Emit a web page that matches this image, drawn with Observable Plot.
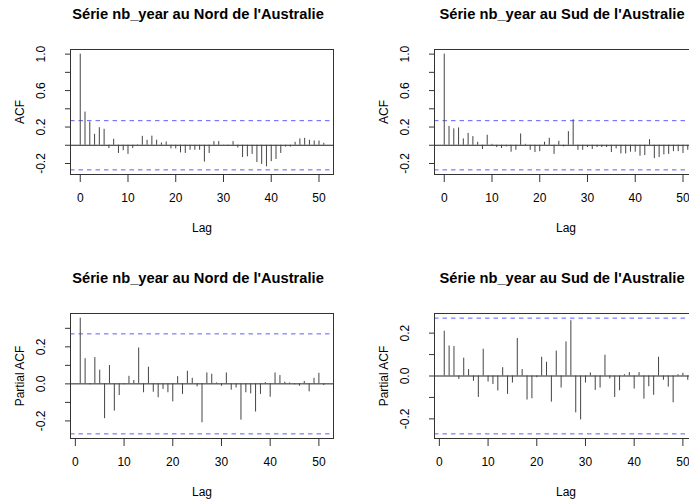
<!DOCTYPE html>
<html><head><meta charset="utf-8">
<script src="https://cdn.jsdelivr.net/npm/d3@7"></script>
<script src="https://cdn.jsdelivr.net/npm/@observablehq/plot@0.6"></script>
<style>
html,body{margin:0;padding:0;background:#fff;}
#wrap{position:relative;width:689px;height:504px;overflow:hidden;background:#fff;}
.panel{position:absolute;}
</style></head><body><div id="wrap"></div>
<script>
const acfLags = [0,1,2,3,4,5,6,7,8,9,10,11,12,13,14,15,16,17,18,19,20,21,22,23,24,25,26,27,28,29,30,31,32,33,34,35,36,37,38,39,40,41,42,43,44,45,46,47,48,49,50,51];
const pacfLags = [1,2,3,4,5,6,7,8,9,10,11,12,13,14,15,16,17,18,19,20,21,22,23,24,25,26,27,28,29,30,31,32,33,34,35,36,37,38,39,40,41,42,43,44,45,46,47,48,49,50,51];

const acfNord = [1.0, 0.364, 0.255, 0.12, 0.193, 0.175, -0.036, 0.065, -0.09, -0.06, -0.1, -0.036, 0.005, 0.098, 0.055, 0.1, 0.055, 0.025, 0.036, -0.04, -0.04, -0.084, -0.09, -0.055, -0.055, -0.055, -0.185, -0.09, 0.04, 0.04, 0.002, -0.01, 0.04, -0.03, -0.135, -0.127, -0.1, -0.19, -0.21, -0.236, -0.18, -0.156, -0.09, -0.02, -0.02, 0.033, 0.07, 0.076, 0.055, 0.047, 0.047, 0.022];
const acfSud = [1.0, 0.207, 0.18, 0.19, 0.07, 0.13, 0.095, 0.033, -0.047, 0.11, 0.01, -0.025, -0.036, -0.018, -0.076, -0.055, 0.124, 0.01, -0.055, -0.08, -0.07, 0.033, 0.076, -0.1, 0.044, -0.018, 0.149, 0.28, -0.055, -0.055, -0.025, -0.047, -0.025, -0.025, -0.025, -0.08, -0.04, -0.095, -0.095, -0.076, -0.076, -0.12, -0.113, 0.062, -0.145, -0.135, -0.105, -0.1, -0.07, -0.07, -0.09, -0.055];
const pacfNord = [0.355, 0.136, -0.005, 0.142, 0.074, -0.188, 0.099, -0.147, -0.063, -0.005, 0.041, 0.018, 0.194, -0.048, 0.09, -0.045, -0.075, -0.03, -0.048, -0.097, 0.039, -0.057, 0.068, 0.03, -0.016, -0.21, 0.059, 0.052, 0.005, -0.013, 0.059, -0.034, -0.022, -0.196, -0.048, -0.054, -0.152, -0.057, 0.007, -0.072, 0.059, 0.045, 0.009, 0.005, -0.005, -0.013, 0.013, -0.043, 0.03, 0.057, -0.009];
const pacfSud = [0.209, 0.14, 0.1375, -0.016, 0.083, 0.03, -0.025, -0.1, 0.125, -0.028, -0.04, -0.07, 0.039, -0.086, -0.033, 0.175, 0.03, -0.112, -0.106, -0.008, 0.0875, 0.064, -0.122, 0.116, -0.056, 0.159, 0.258, -0.172, -0.205, -0.033, 0.014, -0.067, -0.056, 0.097, -0.014, -0.1, -0.069, 0.006, 0.016, -0.061, 0.016, -0.108, -0.05, -0.09, 0.0875, -0.02, -0.052, -0.125, 0.006, 0.0125, -0.02];

const confLimit = 0.27;
const titleNord = "Série nb_year au Nord de l'Australie";
const titleSud = "Série nb_year au Sud de l'Australie";
const xTickValues = [0, 10, 20, 30, 40, 50];
const acfYTicks = [-0.2, 0, 0.2, 0.4, 0.6, 0.8, 1.0];
const acfYLabels = [-0.2, 0.2, 0.6, 1.0];
const pacfNordYTicks = [-0.2, -0.1, 0, 0.1, 0.2, 0.3];
const pacfSudYTicks = [-0.2, -0.1, 0, 0.1, 0.2];
const pacfYLabels = [-0.2, 0, 0.2];

// R-style 4% axis extension
function ext(lo, hi) { const p = (hi - lo) * 0.04; return [lo - p, hi + p]; }

function panel({lags, values, yTicks, yLabels, yTitle, title, left, top}) {
  const data = lags.map((lag, i) => ({lag, value: values[i]}));
  const xDom = ext(d3.min(lags), d3.max(lags));
  const yDom = ext(Math.min(d3.min(values), -confLimit), Math.max(d3.max(values), confLimit));
  const svg = Plot.plot({
    width: 364, height: 264,
    marginLeft: 70, marginRight: 31, marginTop: 49, marginBottom: 90,
    x: {domain: xDom},
    y: {domain: yDom},
    style: {fontFamily: "Liberation Sans, Arial, Helvetica, sans-serif", fontSize: "12px", background: "white", color: "black", overflow: "visible"},
    marks: [
      Plot.ruleY([0], {stroke: "#222"}),
      Plot.ruleY([confLimit, -confLimit], {stroke: "#5f5fff", strokeDasharray: "4.5,4"}),
      Plot.ruleX(data, {x: "lag", y1: 0, y2: "value", stroke: "#444"}),
      Plot.frame({stroke: "#333"}),
      Plot.axisX({ticks: xTickValues, tickSize: 8, fill: "none", stroke: "#333", label: null}),
      Plot.axisY({ticks: yTicks, tickSize: 5, fill: "none", stroke: "#333", label: null}),
      Plot.text(xTickValues, {x: d => d, text: d => String(d), frameAnchor: "bottom", dy: 24, textAnchor: "middle", lineAnchor: "middle", fontSize: 12}),
      Plot.text(yLabels, {y: d => d, text: d => d.toFixed(1), frameAnchor: "left", dx: -29, rotate: -90, textAnchor: "middle", lineAnchor: "middle", fontSize: 12}),
      Plot.text([yTitle], {text: d => d, frameAnchor: "left", dx: -50, rotate: -90, textAnchor: "middle", lineAnchor: "middle", fontSize: 12}),
      Plot.text(["Lag"], {text: d => d, frameAnchor: "bottom", dy: 54, textAnchor: "middle", lineAnchor: "middle", fontSize: 12}),
      Plot.text([title], {text: d => d, frameAnchor: "top", dy: -31, dx: -4, textAnchor: "middle", lineAnchor: "bottom", fontWeight: "bold", fontSize: 14.7})
    ]
  });
  svg.classList.add("panel");
  svg.style.left = left + "px";
  svg.style.top = top + "px";
  svg.style.position = "absolute";
  document.getElementById("wrap").appendChild(svg);
}

panel({lags: acfLags, values: acfNord, yTicks: acfYTicks, yLabels: acfYLabels, yTitle: "ACF", title: titleNord, left: 0, top: 0});
panel({lags: acfLags, values: acfSud, yTicks: acfYTicks, yLabels: acfYLabels, yTitle: "ACF", title: titleSud, left: 364, top: 0});
panel({lags: pacfLags, values: pacfNord, yTicks: pacfNordYTicks, yLabels: pacfYLabels, yTitle: "Partial ACF", title: titleNord, left: 0, top: 264});
panel({lags: pacfLags, values: pacfSud, yTicks: pacfSudYTicks, yLabels: pacfYLabels, yTitle: "Partial ACF", title: titleSud, left: 364, top: 264});
</script></body></html>
